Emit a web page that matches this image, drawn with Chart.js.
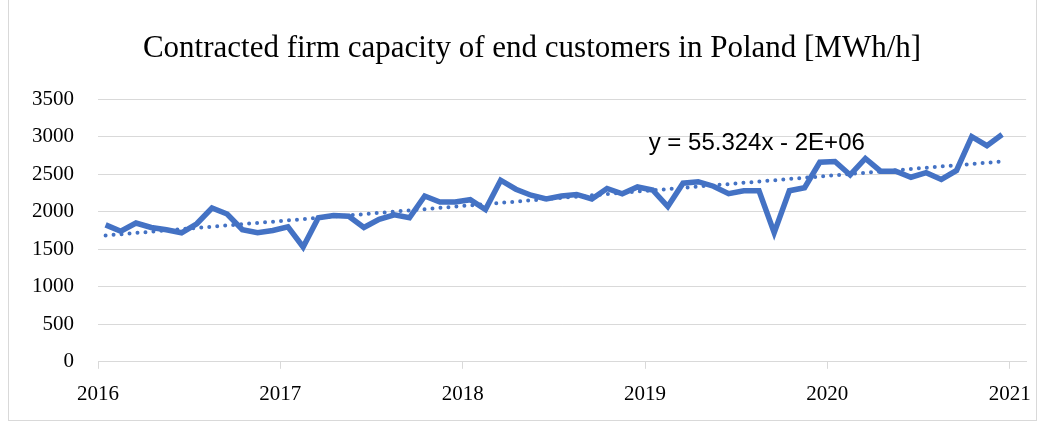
<!DOCTYPE html>
<html>
<head>
<meta charset="utf-8">
<script src="https://cdn.jsdelivr.net/npm/chart.js@4"></script>
<style>
  html, body { margin: 0; padding: 0; background: #fff; }
  #box { position: absolute; left: 0; top: 0; width: 1044px; height: 423px; }
  #frame { position: absolute; left: 8px; top: -1px; width: 1029px; height: 422px;
           border: 1px solid #d9d9d9; box-sizing: border-box; pointer-events: none; }
</style>
</head>
<body>
<div id="box"><canvas id="chart" width="1044" height="423"></canvas></div>
<div id="frame"></div>
<script>
const years = [2016, 2017, 2018, 2019, 2020];
const yearTicks = [2016, 2017, 2018, 2019, 2020, 2021];

// monthly values, Jan..Dec for each year
const capacity = [
    1825, 1740, 1850, 1790, 1760, 1720, 1840, 2050, 1970, 1760, 1720, 1750,
    1800, 1530, 1920, 1950, 1940, 1790, 1900, 1960, 1920, 2210, 2130, 2130,
    2160, 2030, 2420, 2300, 2220, 2170, 2210, 2230, 2170, 2310, 2240, 2330,
    2290, 2070, 2380, 2400, 2340, 2240, 2280, 2280, 1720, 2280, 2320, 2660,
    2670, 2490, 2710, 2540, 2540, 2460, 2520, 2430, 2550, 3000, 2880, 3030
];

// linear trend, first and last month
const trendEnds = [1684, 2670];
const trendLabel = "y = 55.324x - 2E+06";
const titleText = "Contracted firm capacity of end customers in Poland [MWh/h]";

const monthX = [];
years.forEach(y => {
    for (let m = 1; m <= 12; m++) monthX.push(y + (m - 0.5) / 12);
});

const mainData = capacity.map((v, i) => ({ x: monthX[i], y: v }));
const trendData = [
    { x: monthX[0], y: trendEnds[0] },
    { x: monthX[monthX.length - 1], y: trendEnds[1] }
];

const serif = "'Liberation Serif', 'DejaVu Serif', serif";

// draws the title a bit right of the canvas centre, and the trend equation
const textPlugin = {
    id: "texts",
    afterDatasetsDraw(chart) {
        const ctx = chart.ctx;
        const xs = chart.scales.x, ys = chart.scales.y;
        const tb = chart.titleBlock;
        ctx.save();
        ctx.fillStyle = "#000";
        ctx.textBaseline = "middle";
        ctx.textAlign = "center";
        ctx.font = "31px " + serif;
        ctx.fillText(titleText, chart.width / 2 + 10, tb.top + tb.height / 2 - 16);

        ctx.font = "24px 'Liberation Sans', Arial, sans-serif";
        ctx.textAlign = "left";
        ctx.fillText(trendLabel, xs.getPixelForValue(2019.02), ys.getPixelForValue(2910));
        ctx.restore();
    }
};

new Chart(document.getElementById("chart"), {
    type: "line",
    data: {
        datasets: [
            {
                label: "Capacity",
                data: mainData,
                borderColor: "#4472C4",
                borderWidth: 5.5,
                pointRadius: 0,
                tension: 0
            },
            {
                label: "Trend",
                data: trendData,
                borderColor: "#4472C4",
                borderWidth: 4,
                borderDash: [0, 8],
                borderCapStyle: "round",
                pointRadius: 0
            }
        ]
    },
    options: {
        responsive: false,
        animation: false,
        layout: { padding: { left: 8, right: 16, top: 30, bottom: 3 } },
        plugins: {
            legend: { display: false },
            tooltip: { enabled: false },
            title: {
                // only reserves the space, text is drawn by textPlugin
                display: true,
                text: titleText,
                color: "rgba(0,0,0,0)",
                font: { family: serif, size: 31, weight: "normal" },
                padding: { top: 0, bottom: 32 }
            }
        },
        scales: {
            x: {
                type: "linear",
                min: 2016,
                max: 2021.09,
                afterBuildTicks: axis => {
                    axis.ticks = yearTicks.map(v => ({ value: v }));
                },
                ticks: {
                    color: "#000",
                    font: { family: serif, size: 21 },
                    maxRotation: 0,
                    padding: 13,
                    callback: v => String(v)
                },
                grid: { drawOnChartArea: false, color: "#d9d9d9", tickLength: 7 },
                border: { color: "#d9d9d9", width: 1 }
            },
            y: {
                min: 0,
                max: 3500,
                ticks: {
                    stepSize: 500,
                    color: "#000",
                    font: { family: serif, size: 21 },
                    padding: 24,
                    callback: v => String(v)
                },
                grid: { color: "#d9d9d9", drawTicks: false },
                border: { display: false }
            }
        }
    },
    plugins: [textPlugin]
});
</script>
</body>
</html>
